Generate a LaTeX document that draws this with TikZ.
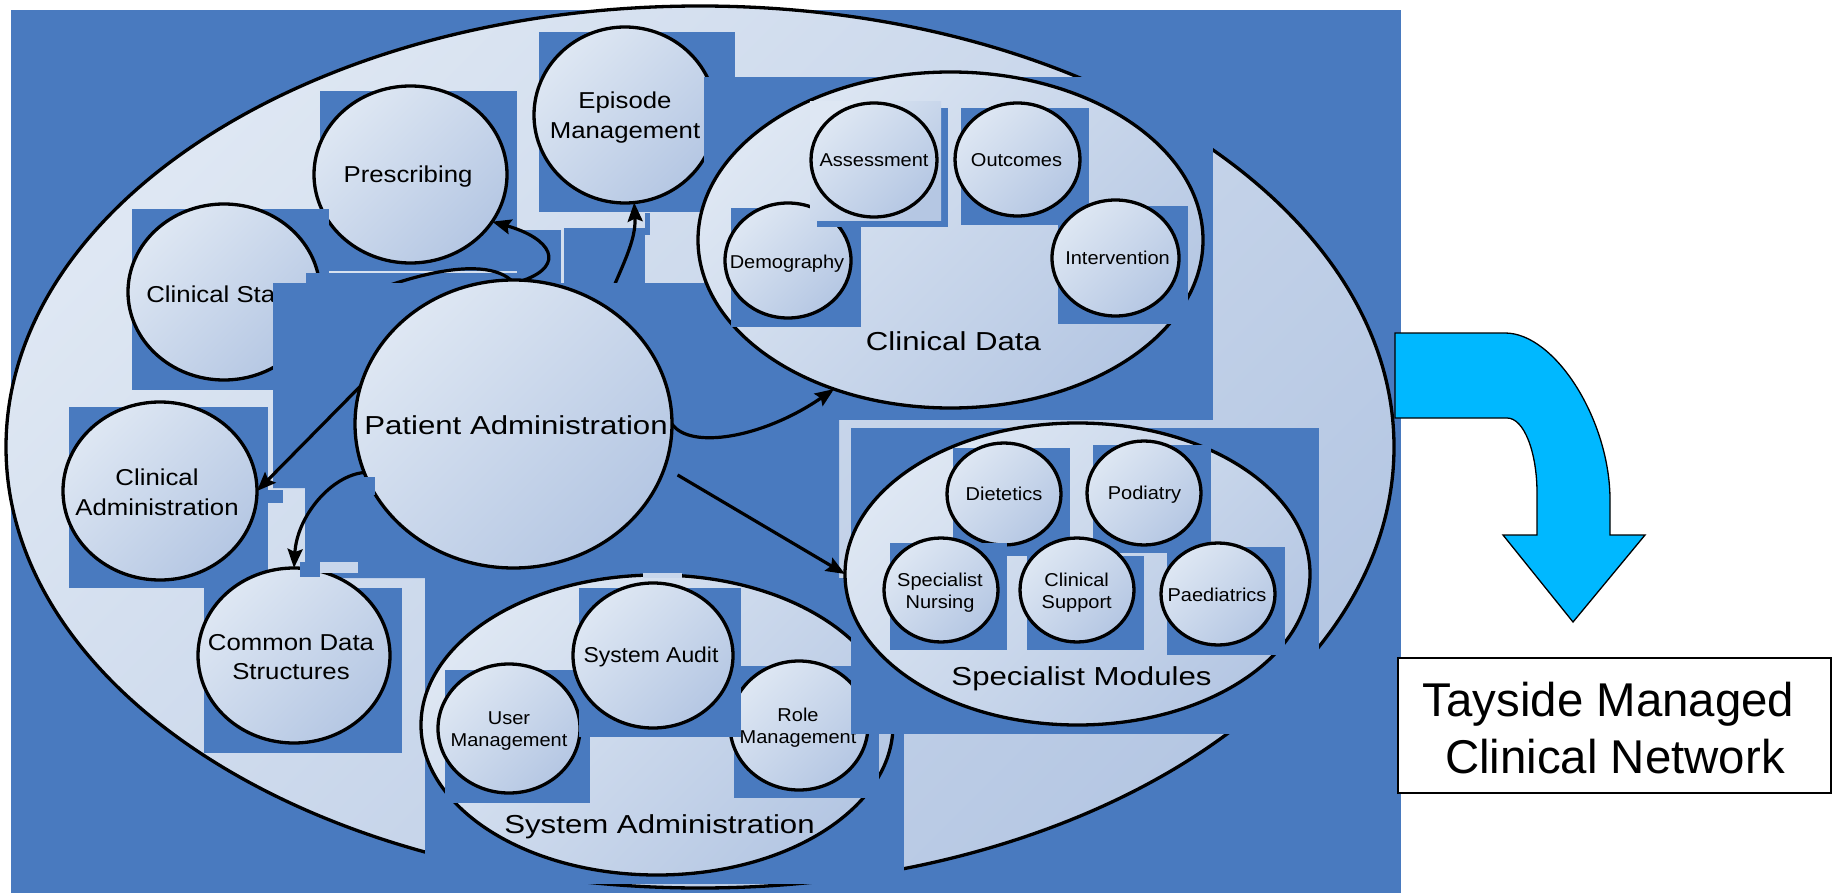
\documentclass[tikz,border=0pt]{standalone}
\usepackage{fontspec}
\setmainfont{Liberation Sans}
\usepackage{graphicx}
\usetikzlibrary{shapes.geometric,arrows.meta}
\definecolor{bgblue}{RGB}{73,122,191}
\definecolor{gl}{RGB}{222,231,243}
\definecolor{gd}{RGB}{181,199,227}
\definecolor{gm}{RGB}{200,214,235}
\definecolor{cyanA}{RGB}{0,184,255}
\newcommand{\mylab}[4]{\fontsize{#1}{#2}\selectfont\scalebox{#3}[1]{\begin{tabular}{@{}c@{}}#4\end{tabular}}}
\tikzset{
  modell/.style={ellipse, draw=black, line width=3.3pt, top color=gl, bottom color=gd, shading angle=45, inner sep=0pt, outer sep=0pt},
  shapeonly/.style={ellipse, inner sep=0pt, outer sep=0pt},
  lbl/.style={inner sep=0pt, outer sep=0pt},
  arr/.style={line width=3.2pt, -{Stealth[length=19pt,width=15pt,inset=3pt]}},
}
\begin{document}
\begin{tikzpicture}[x=1pt,y=-1pt]
\useasboundingbox (0,0) rectangle (1835,893);
\fill[bgblue] (11,10) rectangle (1401,893);
\node[modell, minimum width=1388pt, minimum height=882pt] (big) at (700,447) {};

% Episode Management
\fill[bgblue] (539,32) rectangle (735,212);
\node[modell, minimum width=182pt, minimum height=176pt] (ep) at (625,115) {};
\node[lbl] (ep-t) at (625,118) {\mylab{23}{30}{1.12}{Episode\\Management}};

% Prescribing
\fill[bgblue] (320,91) rectangle (517,271);
\node[modell, minimum width=193pt, minimum height=177pt] (pr) at (410.5,174.5) {};
\node[lbl] (pr-t) at (408,177) {\mylab{23}{30}{1.12}{Prescribing}};

% Clinical Status
\fill[bgblue] (132,209) rectangle (329,390);
\node[modell, minimum width=192pt, minimum height=176pt] (cs) at (224,292) {};
\node[lbl] (cs-t) at (228,296) {\mylab{23}{30}{1.12}{Clinical Status}};

% Clinical Administration
\fill[bgblue] (69,407) rectangle (268,588);
\node[modell, minimum width=194pt, minimum height=178pt] (ca) at (160,491) {};
\node[lbl] (ca-t) at (157,494) {\mylab{23}{30}{1.12}{Clinical\\Administration}};

% patient administration shape (drawn later)
\path node[shapeonly, minimum width=317pt, minimum height=288pt] (pa) at (513.5,424) {};

% blue patches near the top
\fill[bgblue] (306,273) rectangle (517,283);
\fill[bgblue] (517,230) rectangle (561,283);
\fill[bgblue] (564,228) rectangle (645,283);
\fill[bgblue] (645,213) rectangle (650,235);

% connectors partly hidden
\draw[arr] (pa.86) .. controls +(42,-15) and +(60,17) .. (pr.-30);
\draw[arr] (pa.52) .. controls +(17,-41) and +(2,38) .. (ep.-84);
\draw[arr] (pa.91) .. controls +(-35,-30) and +(60,-30) .. (cs.-15);

% Patient Administration
\fill[bgblue] (273,283) -- (839,283) -- (839,578) -- (305,578) -- (305,488) -- (273,488) -- cycle;
\node[modell, minimum width=317pt, minimum height=288pt] (pa-e) at (pa) {};
\node[lbl] (pa-t) at (516,428) {\mylab{26}{31}{1.2}{Patient Administration}};

% Common Data Structures
\fill[bgblue] (204,588) rectangle (402,753);
\node[modell, minimum width=192pt, minimum height=175pt] (cds) at (294,655.5) {};
\node[lbl] (cds-t) at (291,659) {\mylab{23}{29}{1.12}{Common Data\\Structures}};

% System Administration
\fill[bgblue] (425,578) rectangle (904,884);
\node[modell, minimum width=472pt, minimum height=300pt] (sa) at (657,725) {};
\fill[bgblue] (445,670) rectangle (590,803);
\node[modell, minimum width=142pt, minimum height=129pt] (um) at (509,728.5) {};
\node[lbl] (um-t) at (509,731) {\mylab{18.6}{22.5}{1.075}{User\\Management}};
\fill[bgblue] (734,666) rectangle (879,798);
\node[modell, minimum width=138pt, minimum height=129pt] (rm) at (799,725.5) {};
\node[lbl] (rm-t) at (798,728) {\mylab{18.6}{22.5}{1.075}{Role\\Management}};
\fill[bgblue] (579,588) rectangle (741,737);
\node[modell, minimum width=160pt, minimum height=145pt] (au) at (653,655.5) {};
\node[lbl] (au-t) at (651,657.5) {\mylab{21.5}{26}{1.065}{System Audit}};
\node[lbl] (sa-t) at (659.5,827) {\mylab{26}{31}{1.2}{System Administration}};

% Specialist Modules
\fill[bgblue] (851,428) rectangle (1319,734);
\node[modell, minimum width=465pt, minimum height=302pt] (sm) at (1077.5,574) {};
\fill[bgblue] (953,448) rectangle (1070,556);
\node[modell, minimum width=114pt, minimum height=102pt] (di) at (1004,494) {};
\node[lbl] (di-t) at (1004,496) {\mylab{18.6}{23}{1.075}{Dietetics}};
\fill[bgblue] (1093,445) rectangle (1211,553);
\node[modell, minimum width=114pt, minimum height=104pt] (po) at (1144,493) {};
\node[lbl] (po-t) at (1144.5,494.5) {\mylab{18.6}{23}{1.075}{Podiatry}};
\fill[bgblue] (890,543) rectangle (1007,650);
\node[modell, minimum width=114pt, minimum height=104pt] (sn) at (941,590) {};
\node[lbl] (sn-t) at (940,593) {\mylab{18.6}{22.5}{1.075}{Specialist\\Nursing}};
\fill[bgblue] (1027,556) rectangle (1144,650);
\node[modell, minimum width=114pt, minimum height=104pt] (csu) at (1077,590) {};
\node[lbl] (csu-t) at (1076.7,593) {\mylab{18.6}{22.5}{1.075}{Clinical\\Support}};
\fill[bgblue] (1167,547) rectangle (1285,655);
\node[modell, minimum width=114pt, minimum height=102pt] (pd) at (1218,594) {};
\node[lbl] (pd-t) at (1217,597) {\mylab{18.6}{23}{1.075}{Paediatrics}};
\node[lbl] (sm-t) at (1081.5,679) {\mylab{26}{31}{1.2}{Specialist Modules}};

% Clinical Data
\fill[bgblue] (704,77) rectangle (1213,420);
\node[modell, minimum width=505pt, minimum height=336pt] (cd) at (950.5,240) {};
\fill[bgblue] (731,208) rectangle (861,327);
\node[modell, minimum width=126pt, minimum height=115pt] (dm) at (788,260.5) {};
\node[lbl] (dm-t) at (787,263.7) {\mylab{18.6}{23}{1.075}{Demography}};
\fill[bgblue] (817,108) rectangle (948,227);
\fill[top color=gl, bottom color=gd, shading angle=45] (810,102) rectangle (941,221);
\node[modell, minimum width=126pt, minimum height=114pt] (as) at (874,160) {};
\node[lbl] (as-t) at (874,162.4) {\mylab{18.6}{23}{1.075}{Assessment}};
\fill[bgblue] (961,108) rectangle (1089,225);
\node[modell, minimum width=125pt, minimum height=113pt] (oc) at (1017.5,159.5) {};
\node[lbl] (oc-t) at (1016.5,162.4) {\mylab{18.6}{23}{1.075}{Outcomes}};
\fill[bgblue] (1058,206) rectangle (1188,324);
\node[modell, minimum width=127pt, minimum height=116pt] (iv) at (1115.5,258) {};
\node[lbl] (iv-t) at (1117.5,260.4) {\mylab{18.6}{23}{1.075}{Intervention}};
\node[lbl] (cd-t) at (953.5,344) {\mylab{26}{31}{1.2}{Clinical Data}};

% visible connectors
\draw[arr] (pa.166) -- (ca.east);
\draw[arr] (pa.198) .. controls +(-33,3) and +(3,-52) .. (cds.north);
\draw[arr] (pa.east) .. controls +(18,26) and +(-71,49) .. (cd.-128);
\draw[arr, shorten <=15pt] (pa.-16) -- (sm.west);

% small patches
\fill[bgblue] (300,562) rectangle (320,577);
\fill[gm] (320,562) rectangle (358,573);
\fill[bgblue] (362,477) rectangle (375,495);
\fill[bgblue] (264,490) rectangle (283,503);
\fill[gm] (643,573) rectangle (682,578);

% big cyan arrow
\draw[fill=cyanA, line width=1.3pt, line join=miter] (1395,333) -- (1505,333)
  .. controls (1555,333) and (1610,420) .. (1610,500) -- (1610,535) -- (1645,535)
  -- (1573,622) -- (1503,535) -- (1537,535) -- (1537,493)
  .. controls (1537,452) and (1524,418) .. (1507,418) -- (1395,418) -- cycle;

% Tayside box
\node[draw=black, line width=1.6pt, fill=white, minimum width=433pt, minimum height=135pt, inner sep=0pt] (tmcn) at (1614.5,725.5) {};
\node[lbl] (tmcn-t) at (1615,734) {\mylab{47.4}{56.7}{1}{Tayside Managed\hspace*{13pt}\\Clinical Network}};
\end{tikzpicture}
\end{document}
